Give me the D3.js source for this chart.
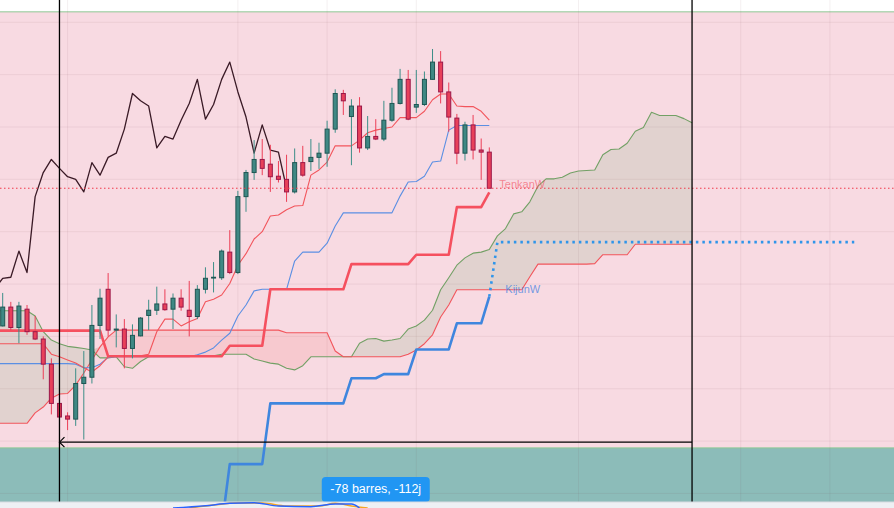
<!DOCTYPE html>
<html>
<head>
<meta charset="utf-8">
<script src="https://cdn.jsdelivr.net/npm/d3@7"></script>
<style>
  body { margin: 0; background: #fff; overflow: hidden; }
  svg { display: block; font-family: "Liberation Sans", Arial, sans-serif; }
</style>
</head>
<body>
<div id="chart"></div>
<script>
// daily candles, bar index 0..60
const opens = [122.0,125.6,121.7,125.2,120.9,119.5,114.7,107.2,104.8,104.2,
  111.0,112.2,122.1,129.0,121.2,121.4,117.7,120.1,124.0,125.0,
  126.2,125.2,127.3,125.0,123.8,129.0,131.2,131.2,136.1,132.2,
  146.7,151.3,153.8,152.9,150.6,150.0,147.6,153.2,153.4,154.2,
  155.0,159.6,166.4,162.0,164.0,156.0,158.2,157.7,161.3,164.5,
  169.1,163.8,164.3,169.1,172.4,166.7,161.7,155.0,160.4,155.6,155.2];
const highs = [128.3,126.6,126.6,126.0,123.9,120.0,115.8,107.3,105.5,113.9,
  117.2,126.0,129.1,132.1,124.2,123.3,122.3,123.7,127.0,129.5,
  129.0,128.2,129.0,130.6,129.8,133.2,134.2,136.6,140.3,147.8,
  151.8,157.5,157.7,156.6,153.5,154.7,155.9,156.4,157.7,157.0,
  161.2,167.2,167.1,165.3,165.7,162.1,161.5,165.0,167.5,171.1,
  170.9,170.9,170.6,174.9,174.5,168.5,162.5,161.0,162.3,157.8,156.1];
const lows = [121.9,121.2,118.7,120.3,119.3,111.8,105.1,104.5,102.1,102.9,
  100.3,111.0,119.5,120.0,117.9,113.9,115.8,120.0,121.2,124.1,
  124.9,121.4,124.9,120.0,123.3,128.2,128.4,130.8,131.9,131.9,
  143.8,149.9,150.8,147.6,149.4,145.7,147.3,150.5,151.6,152.0,
  152.4,158.9,162.3,152.7,155.1,155.6,157.5,157.3,161.0,164.3,
  161.3,162.7,164.0,169.0,164.5,159.1,152.9,153.6,153.8,149.9,148.3];
const closes = [125.6,121.7,125.8,120.9,119.5,114.7,107.2,104.6,104.2,111.0,
  112.2,122.1,127.3,121.2,121.4,117.7,120.2,123.5,125.0,126.2,
  125.1,127.3,125.6,123.8,129.0,131.1,131.3,136.3,132.2,146.7,
  151.3,153.8,152.1,150.5,150.0,147.6,153.2,150.8,154.2,155.0,
  159.6,166.4,165.0,164.0,156.0,158.2,157.7,161.3,164.5,169.1,
  161.5,164.3,169.1,172.4,166.7,161.9,155.0,160.4,155.6,155.2,148.3];

// ichimoku (daily), these series start one bar before the first candle (index -1)
const lineStart = -1;
const tenkan = [118.6,118.6,118.6,118.6,118.6,118.6,118.6,116.6,116.1,115.5,114.9,
  114.0,113.2,114.4,116.1,116.3,116.3,116.3,116.3,116.6,120.9,
  123.3,123.3,122.0,122.8,123.4,126.6,127.1,127.9,130.1,133.6,
  135.8,138.6,140.0,143.0,143.2,144.2,144.9,145.0,150.8,151.8,
  153.3,156.4,156.4,156.4,157.5,158.9,159.4,159.7,160.0,161.8,
  161.8,161.8,163.0,165.2,166.3,166.3,164.0,163.9,163.9,163.0,161.3];
const kijun = [114.8,114.8,114.8,114.8,114.8,114.8,114.8,114.8,114.8,114.8,114.7,
  114.0,114.0,114.7,116.0,116.1,116.1,116.1,116.1,116.1,116.1,
  116.1,116.1,116.1,116.1,116.5,117.0,117.8,119.3,120.6,123.9,
  126.0,128.7,129.0,129.0,129.0,129.0,134.4,136.1,136.1,136.1,
  137.8,141.1,143.6,143.6,143.6,143.6,143.6,143.6,143.6,146.8,
  149.5,149.6,150.6,153.3,153.5,159.4,160.3,160.3,160.3,160.3,160.3];
const senkouA = [124.9,124.9,124.9,124.9,124.9,123.9,120.9,119.3,118.6,118.1,117.9,
  117.7,117.4,115.9,115.9,116.1,114.2,113.9,115.2,116.1,116.3,
  116.3,116.3,116.3,116.3,116.3,116.3,116.3,116.6,116.6,116.6,
  116.6,115.7,115.3,114.9,114.7,113.9,113.6,114.4,116.1,116.1,
  116.1,116.1,116.1,116.1,118.7,119.5,119.6,119.1,119.3,119.6,
  121.4,122.0,123.1,125.0,128.9,131.2,133.6,135.0,135.9,136.1,
  136.6,139.2,140.6,143.4,143.8,145.7,148.7,150.1,150.1,150.4,
  151.2,151.6,151.7,151.8,154.7,155.7,155.8,156.9,159.2,159.9,
  162.8,162.2,162.2,162.2,161.6,160.8];
const senkouB = [103.4,103.4,103.4,103.4,103.4,105.4,106.5,108.2,109.0,109.1,110.7,
  113.0,115.5,118.0,119.9,121.2,121.2,121.2,121.2,121.2,121.2,
  121.2,121.2,121.2,121.2,121.2,121.2,121.2,121.2,121.2,121.2,
  121.2,121.2,121.2,121.2,121.2,120.7,120.7,120.7,120.7,120.7,
  120.7,117.2,116.1,116.1,116.1,116.1,116.1,116.1,116.1,116.1,
  116.6,117.4,118.6,120.3,123.7,126.0,128.9,128.9,128.9,128.9,
  128.9,128.9,128.9,128.9,128.9,131.4,133.8,133.8,133.8,133.8,
  133.8,133.8,133.8,133.9,135.6,135.6,135.6,135.6,137.6,137.6,
  137.6,137.6,137.6,137.6,137.6,137.6];
const chikouShift = 25;

// weekly lines drawn on the daily chart
const tenkanW = [121.1,121.1,121.1,121.1,121.1,121.1,121.1,121.1,121.1,121.1,121.1,
  121.1,121.1,121.1,116.2,116.2,116.2,116.2,116.2,116.2,116.2,
  116.2,116.2,116.2,116.2,116.2,116.2,116.2,116.2,118.2,118.2,
  118.2,118.2,118.2,129.0,129.0,129.0,129.0,129.0,129.0,129.0,
  129.0,129.0,129.0,133.8,133.8,133.8,133.8,133.8,133.8,133.8,
  133.8,135.6,135.6,135.6,135.6,135.6,144.7,144.7,144.7,144.7,147.5];
const kijunWStart = 27;
const kijunW = [83.6,95.6,95.6,95.6,95.6,95.6,107.2,107.2,107.2,107.2,
  107.2,107.2,107.2,107.2,107.2,107.2,112.0,112.0,112.0,112.0,
  112.8,112.8,112.8,112.8,117.5,117.5,117.5,117.5,117.5,122.5,
  122.5,122.5,122.5,127.6];
const kijunWProjBars = [60, 61, 105];
const kijunWProj = [127.6, 138.0, 138.0];

// lower pane oscillator (mostly hidden)
const oscBars = [21, 25, 28, 31, 34, 38, 41, 43, 44];
const oscBlue = [40, 63, 87, 93, 60, 53, 80, 80, 40];
const oscBars2 = [23, 26, 29, 32, 35, 39, 41, 43, 45];
const oscOrange = [40, 70, 90, 90, 60, 60, 87, 60, 40];

// zones, grid, annotations
const zoneTop = [182.0, 98.7];
const zoneBottom = [98.7, 80.0];
const gridPrices = [90, 100, 110, 120, 130, 140, 150, 160, 170, 180];
const gridBars = [8, 29, 40, 51, 71, 91, 102];
const lastPrice = 148.3;
const measureBars = [7, 85];
const measurePrice = 99.8;
const measureLabel = '-78 barres, -112j';

const W = 894, H = 508, paneBottom = 502;

const x = d3.scaleLinear().domain([0, 60]).range([2.7, 489.3]);
const y = d3.scaleLinear().domain([100, 180]).range([441.1, 22.3]);
const yOsc = d3.scaleLinear().domain([40, 100]).range([508, 502]);

const svg = d3.select('#chart').append('svg')
  .attr('width', W).attr('height', H);

svg.append('defs').append('clipPath').attr('id', 'pane')
  .append('rect').attr('x', 0).attr('y', 0).attr('width', W).attr('height', paneBottom);

svg.append('rect').attr('width', W).attr('height', H).attr('fill', '#ffffff');

const g = svg.append('g').attr('clip-path', 'url(#pane)');

// price zones
const zoneFill = ['#f8dae2', '#8cbcb9'];
zoneTop.forEach((t, k) => {
  g.append('rect')
    .attr('x', 0).attr('width', W)
    .attr('y', y(t)).attr('height', y(zoneBottom[k]) - y(t))
    .attr('fill', zoneFill[k]);
  g.append('line')
    .attr('x1', 0).attr('x2', W).attr('y1', y(t)).attr('y2', y(t))
    .attr('stroke', '#8ec894').attr('stroke-width', 1);
});

// grid
g.selectAll('line.gh').data(gridPrices).join('line')
  .attr('class', 'gh')
  .attr('x1', 0).attr('x2', W)
  .attr('y1', d => y(d)).attr('y2', d => y(d))
  .attr('stroke', 'rgba(110,60,80,0.08)').attr('stroke-width', 1);
g.selectAll('line.gv').data(gridBars).join('line')
  .attr('class', 'gv')
  .attr('x1', d => x(d)).attr('x2', d => x(d))
  .attr('y1', 0).attr('y2', paneBottom)
  .attr('stroke', 'rgba(110,60,80,0.08)').attr('stroke-width', 1);

// kumo
const kumoIdx = d3.range(senkouA.length);
g.append('path').datum(kumoIdx)
  .attr('fill', 'rgba(67,160,71,0.12)')
  .attr('d', d3.area().x(i => x(i + lineStart))
    .y0(i => y(senkouB[i])).y1(i => y(Math.max(senkouA[i], senkouB[i]))));
g.append('path').datum(kumoIdx)
  .attr('fill', 'rgba(244,67,54,0.11)')
  .attr('d', d3.area().x(i => x(i + lineStart))
    .y0(i => y(senkouA[i])).y1(i => y(Math.max(senkouA[i], senkouB[i]))));

function drawLine(values, start, color, width, dash) {
  const p = g.append('path').datum(values)
    .attr('fill', 'none')
    .attr('stroke', color)
    .attr('stroke-width', width)
    .attr('stroke-linejoin', 'round')
    .attr('d', d3.line().x((d, i) => x(i + start)).y(d => y(d)));
  if (dash) p.attr('stroke-dasharray', dash);
  return p;
}

drawLine(senkouA, lineStart, '#72a065', 1.1);
drawLine(senkouB, lineStart, '#f2555c', 1.1);
drawLine(kijun, lineStart, '#5b8fe3', 1.1);
drawLine(tenkan, lineStart, '#f2555c', 1.1);

// weekly lines
drawLine(tenkanW, lineStart, '#f5505f', 2.6);
drawLine(kijunW, kijunWStart, '#3f86de', 2.6);
g.append('path').datum(kijunWProjBars)
  .attr('fill', 'none')
  .attr('stroke', '#2f95ea')
  .attr('stroke-width', 2.6)
  .attr('stroke-dasharray', '2.5,4')
  .attr('d', d3.line().x(d => x(d)).y((d, i) => y(kijunWProj[i])));

// chikou span: closes plotted 25 bars back
drawLine(closes.slice(chikouShift + lineStart), lineStart, '#3a1a26', 1.3);

// candles
const candles = g.append('g');
closes.forEach((c, i) => {
  const o = opens[i];
  const up = c >= o;
  const cx = x(i);
  candles.append('line')
    .attr('x1', cx).attr('x2', cx)
    .attr('y1', y(highs[i])).attr('y2', y(lows[i]))
    .attr('stroke', up ? '#3c8e88' : '#ec3f57').attr('stroke-width', 1);
  const top = y(Math.max(o, c));
  const h = Math.max(0.8, Math.abs(y(o) - y(c)));
  candles.append('rect')
    .attr('x', cx - 2).attr('width', 4)
    .attr('y', top).attr('height', h)
    .attr('fill', up ? '#3f8884' : '#e8405a')
    .attr('stroke', up ? '#1f5653' : '#9a1748')
    .attr('stroke-width', 1);
});

// last price line
g.append('line')
  .attr('x1', 0).attr('x2', W)
  .attr('y1', y(lastPrice)).attr('y2', y(lastPrice))
  .attr('stroke', '#f03a4b').attr('stroke-width', 1)
  .attr('stroke-dasharray', '1.5,2.5');

// line labels
g.append('text')
  .attr('x', x(60) + 10).attr('y', y(tenkanW[tenkanW.length - 1]) - 7)
  .attr('dominant-baseline', 'middle')
  .attr('font-size', 11).attr('fill', 'rgba(242,85,100,0.65)')
  .text('TenkanW');
g.append('text')
  .attr('x', x(60) + 16).attr('y', y(kijunW[kijunW.length - 1]) - 7)
  .attr('dominant-baseline', 'middle')
  .attr('font-size', 11).attr('fill', 'rgba(70,130,225,0.75)')
  .text('KijunW');

// date range measure
const mx0 = x(measureBars[0]), mx1 = x(measureBars[1]), my = y(measurePrice);
measureBars.forEach(b => {
  g.append('line')
    .attr('x1', x(b)).attr('x2', x(b)).attr('y1', 0).attr('y2', paneBottom)
    .attr('stroke', '#000').attr('stroke-width', 1.3);
});
g.append('line')
  .attr('x1', mx0).attr('x2', mx1).attr('y1', my).attr('y2', my)
  .attr('stroke', '#000').attr('stroke-width', 1.3);
g.append('path')
  .attr('d', `M${mx0 + 5},${my - 5}L${mx0},${my}L${mx0 + 5},${my + 5}`)
  .attr('fill', 'none').attr('stroke', '#000').attr('stroke-width', 1.2);

const boxW = 108, boxH = 25, boxCx = (mx0 + mx1) / 2, boxY = 477;
g.append('rect')
  .attr('x', boxCx - boxW / 2).attr('y', boxY)
  .attr('width', boxW).attr('height', boxH).attr('rx', 4)
  .attr('fill', '#2196f3');
g.append('text')
  .attr('x', boxCx).attr('y', boxY + 12.5)
  .attr('text-anchor', 'middle').attr('dominant-baseline', 'middle')
  .attr('font-size', 12.5).attr('fill', '#ffffff')
  .text(measureLabel);

// lower pane
svg.append('rect').attr('x', 0).attr('y', paneBottom)
  .attr('width', W).attr('height', H - paneBottom).attr('fill', '#eef0f4');
svg.append('line').attr('x1', 0).attr('x2', W)
  .attr('y1', paneBottom).attr('y2', paneBottom)
  .attr('stroke', '#d8dae0').attr('stroke-width', 1);
svg.append('path').datum(oscOrange)
  .attr('fill', 'none').attr('stroke', '#f5a623').attr('stroke-width', 1.5)
  .attr('d', d3.line().curve(d3.curveMonotoneX).x((d, i) => x(oscBars2[i])).y(d => yOsc(d)));
svg.append('path').datum(oscBlue)
  .attr('fill', 'none').attr('stroke', '#2962ff').attr('stroke-width', 1.5)
  .attr('d', d3.line().curve(d3.curveMonotoneX).x((d, i) => x(oscBars[i])).y(d => yOsc(d)));
</script>
</body>
</html>
